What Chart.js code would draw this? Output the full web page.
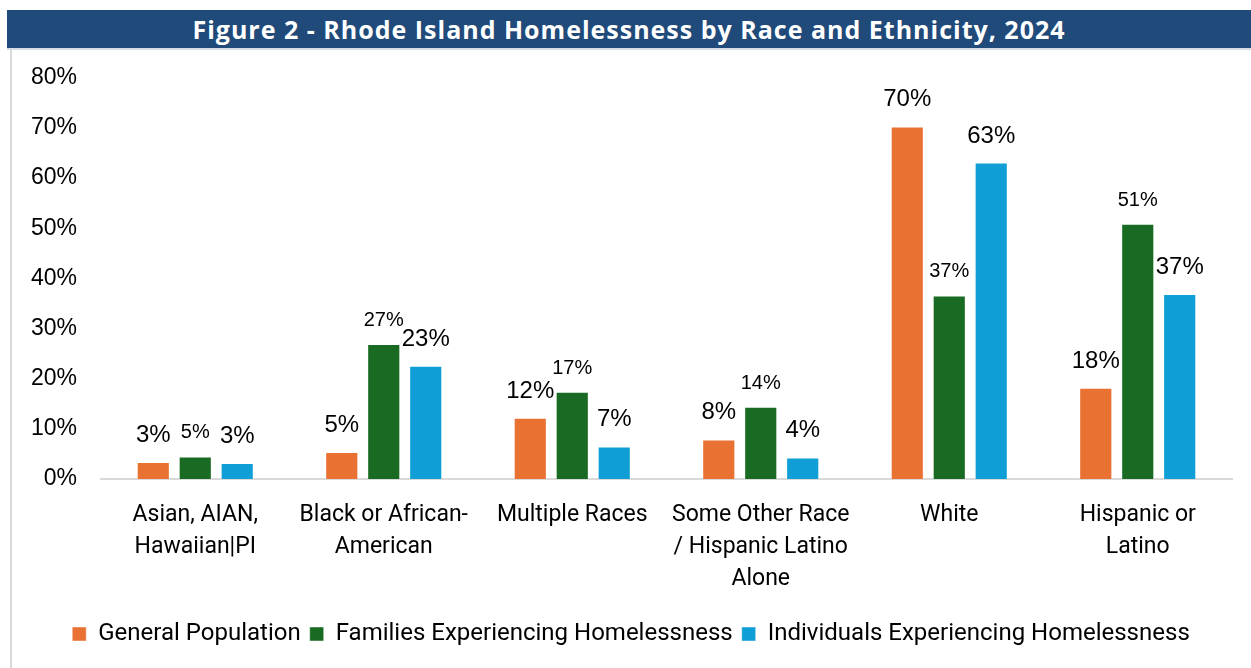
<!DOCTYPE html>
<html>
<head>
<meta charset="utf-8">
<title>Rhode Island Homelessness by Race and Ethnicity, 2024</title>
<script src="https://cdn.jsdelivr.net/npm/chart.js@4/dist/chart.umd.min.js"></script>
<style>
  body { margin: 0; background: #fff; }
  #frame { position: absolute; left: 0; top: 0; width: 1251px; height: 668px; overflow: hidden; }
  #title {
    position: absolute; left: 7px; top: 10px; width: 1244px; height: 38px;
    background: #1F4A7A; color: #fff;
    font: 700 25px "Open Sans", sans-serif; letter-spacing: 1px;
    display: flex; align-items: center; justify-content: center;
    border-bottom: 2px solid #D6DCE4; box-sizing: content-box;
  }
  #box { position: absolute; left: 10px; top: 50px; width: 1241px; height: 618px; border-left: 2px solid #D9D9D9; }
  #chart0 { position: absolute; left: 2px; top: -10px; }
</style>
</head>
<body>
<div id="frame">
  <div id="title">Figure 2 - Rhode Island Homelessness by Race and Ethnicity, 2024</div>
  <div id="box"><canvas id="chart0" width="1239" height="628"></canvas></div>
</div>
<script>
// categories (multi-line labels as shown under the axis)
const categories = [
  ['Asian, AIAN,', 'Hawaiian|PI'],
  ['Black or African-', 'American'],
  ['Multiple Races'],
  ['Some Other Race', '/ Hispanic Latino', 'Alone'],
  ['White'],
  ['Hispanic or', 'Latino']
];

// shares in percent
const generalPopulation = [3.4, 5.4, 12.2, 7.9, 70.3, 18.2];
const familiesHomeless  = [4.5, 26.9, 17.4, 14.4, 36.6, 50.9];
const individualsHomeless = [3.2, 22.6, 6.5, 4.3, 63.1, 36.9];

const yTicks = [0, 10, 20, 30, 40, 50, 60, 70, 80];

const seriesNames = ['General Population', 'Families Experiencing Homelessness', 'Individuals Experiencing Homelessness'];
const seriesColors = ['#E97132', '#196B24', '#0F9ED5'];
const labelFontSize = [24, 20, 24];
const labelGap = [20, 18, 20];

// value labels above each bar
const barLabels = {
  id: 'barLabels',
  afterDatasetsDraw(chart) {
    const ctx = chart.ctx;
    ctx.save();
    ctx.fillStyle = '#000';
    ctx.textAlign = 'center';
    ctx.textBaseline = 'alphabetic';
    chart.data.datasets.forEach((ds, i) => {
      ctx.font = labelFontSize[i] + 'px "Liberation Sans", Arial, sans-serif';
      chart.getDatasetMeta(i).data.forEach((bar, j) => {
        ctx.fillText(Math.round(ds.data[j]) + '%', bar.x, bar.y - labelGap[i]);
      });
    });
    ctx.restore();
  }
};

function makeDataset(label, values, color) {
  return {
    label: label,
    data: values,
    backgroundColor: color,
    borderColor: 'rgba(255,255,255,0.45)',
    borderWidth: 1,
    barPercentage: 0.79,
    categoryPercentage: 0.668
  };
}

let myChart = new Chart(document.getElementById('chart0').getContext('2d'), {
  type: 'bar',
  data: {
    labels: categories,
    datasets: [
      makeDataset(seriesNames[0], generalPopulation, seriesColors[0]),
      makeDataset(seriesNames[1], familiesHomeless, seriesColors[1]),
      makeDataset(seriesNames[2], individualsHomeless, seriesColors[2])
    ]
  },
  options: {
    responsive: false,
    animation: false,
    // left padding nudges the centred legend right; y labels still fit in the axis box
    layout: { padding: { top: 10, right: 21, bottom: 12, left: 16 } },
    plugins: {
      title: { display: false },
      tooltip: { enabled: false },
      legend: {
        position: 'bottom',
        labels: {
          color: '#000',
          boxWidth: 14,
          boxHeight: 14,
          padding: 9,
          font: { family: 'Roboto, sans-serif', size: 24 }
        }
      }
    },
    scales: {
      x: {
        grid: { display: true, color: 'transparent', drawTicks: false },
        border: { display: true, color: '#D9D9D9', width: 2 },
        ticks: {
          color: '#000',
          padding: 20,
          maxRotation: 0,
          autoSkip: false,
          font: { family: 'Roboto, sans-serif', size: 23, lineHeight: 1.39 }
        },
        afterFit: function(scale) { scale.height = 134; }
      },
      y: {
        min: 0,
        max: 80,
        grid: { display: false, drawTicks: false },
        border: { display: false },
        afterBuildTicks: function(scale) { scale.ticks = yTicks.map(v => ({ value: v })); },
        ticks: {
          color: '#000',
          padding: 24,
          font: { family: '"Liberation Sans", Arial, sans-serif', size: 23 },
          callback: function(value) { return value + '%'; }
        },
        afterFit: function(scale) { scale.width = 71; }
      }
    }
  },
  plugins: [barLabels]
});
</script>
</body>
</html>
